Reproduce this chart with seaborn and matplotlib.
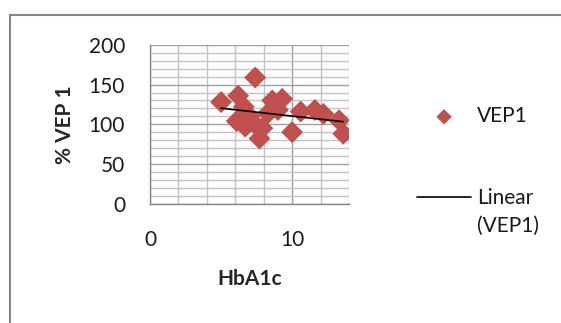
import numpy as np
import pandas as pd
import matplotlib
matplotlib.use('Agg')
import matplotlib.pyplot as plt
import seaborn as sns
from matplotlib.patches import Rectangle
from matplotlib.ticker import MultipleLocator
from matplotlib.legend_handler import HandlerLine2D

# HbA1c vs % VEP 1
hba1c = [5.0, 6.2, 7.4, 6.6, 6.1, 6.7, 7.4, 7.7, 7.9, 8.3, 8.6, 9.3, 9.0, 10.0, 10.6, 11.6, 12.2, 13.3, 13.6, 7.0]
vep1 = [128, 136, 159, 122, 104, 97, 100, 82, 95, 114, 130, 132, 118, 90, 116, 118, 113, 105, 88, 110]

df = pd.DataFrame({'HbA1c': hba1c, 'VEP1': vep1})

# Linear trend line, as Excel draws it
slope, intercept = np.polyfit(df['HbA1c'], df['VEP1'], 1)
trend_x = np.array([df['HbA1c'].min(), df['HbA1c'].max()])
trend = pd.DataFrame({'x': trend_x, 'y': slope * trend_x + intercept})


class TopLineHandler(HandlerLine2D):
    # put the legend line next to the first line of a two-line label
    def create_artists(self, legend, orig_handle, xdescent, ydescent,
                       width, height, fontsize, trans):
        artists = super().create_artists(legend, orig_handle, xdescent, ydescent,
                                         width, height, fontsize, trans)
        for a in artists:
            a.set_ydata(np.asarray(a.get_ydata()) + 11)
        return artists


sns.set_style('white')
plt.rcParams['font.family'] = ['Lato', 'DejaVu Sans']

fig = plt.figure(figsize=(5.61, 3.23), dpi=100)
ax = fig.add_axes([150 / 561, 1 - 203.5 / 323, 199 / 561, 158.5 / 323])

red = '#C0504D'
sns.scatterplot(data=df, x='HbA1c', y='VEP1', marker='D', s=125, color=red,
                edgecolor='none', ax=ax, label='VEP1', zorder=3)
sns.lineplot(data=trend, x='x', y='y', color='black', linewidth=1.2, ax=ax,
             label='Linear\n(VEP1)', zorder=4)

ax.set_xlim(0, 14)
ax.set_ylim(0, 200)
ax.xaxis.set_major_locator(MultipleLocator(10))
ax.xaxis.set_minor_locator(MultipleLocator(2))
ax.yaxis.set_major_locator(MultipleLocator(50))
ax.yaxis.set_minor_locator(MultipleLocator(10))

ax.grid(which='major', color='#a0a0a0', linewidth=1)
ax.grid(which='minor', color='#c4c4c4', linewidth=1)
ax.set_axisbelow(True)

for side in ['top', 'right']:
    ax.spines[side].set_visible(False)
for side in ['left', 'bottom']:
    ax.spines[side].set_color('#868686')
    ax.spines[side].set_linewidth(1)

ax.tick_params(which='major', direction='out', length=6, width=1, color='#868686',
               labelsize=15, labelcolor='#1a1a1a')
ax.tick_params(which='minor', length=0)
ax.tick_params(axis='y', pad=12)
ax.tick_params(axis='x', pad=13)

ax.set_xlabel('HbA1c', fontsize=15, fontweight='bold', labelpad=14)
ax.set_ylabel('% VEP 1', fontsize=15, fontweight='bold', labelpad=10)

line_handle = ax.get_lines()[0]
scatter_handle = ax.collections[0]
leg = ax.legend([scatter_handle, line_handle], ['VEP1', 'Linear\n(VEP1)'],
                loc='center left', bbox_to_anchor=(417 / 561, 1 - 171 / 323),
                bbox_transform=fig.transFigure, frameon=False, fontsize=15,
                borderpad=0, borderaxespad=0, handlelength=2.6, handletextpad=0.3,
                labelspacing=2.95, markerscale=0.7,
                handler_map={line_handle: TopLineHandler()})
for t in leg.get_texts():
    t.set_multialignment('left')
    t.set_linespacing(1.5)
    t.set_color('#1a1a1a')

# outer chart border
fig.patches.append(Rectangle((10 / 561, -0.1), 1.0, 1 - 15 / 323 + 0.1,
                             transform=fig.transFigure, fill=False,
                             edgecolor='#868686', linewidth=1.5))

fig.savefig('out.png', dpi=100)
